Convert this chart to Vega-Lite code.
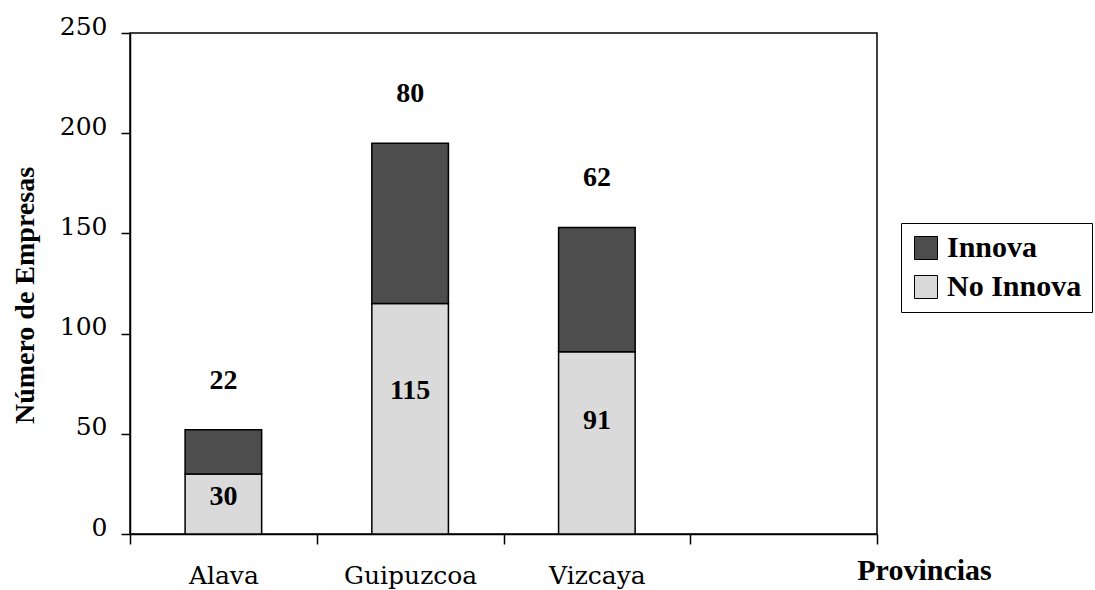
{
  "$schema": "https://vega.github.io/schema/vega-lite/v6.json",
  "width": 747,
  "height": 501,
  "autosize": "none",
  "padding": {"left": 130, "top": 33, "right": 218, "bottom": 56},
  "background": "white",
  "config": {
    "view": {"stroke": "black", "strokeWidth": 1.5},
    "font": "Liberation Serif",
    "axis": {"labelColor": "black", "titleColor": "black"}
  },
  "data": {
    "values": [
      {"prov": "Alava", "tipo": "No Innova", "n": 30},
      {"prov": "Alava", "tipo": "Innova", "n": 22},
      {"prov": "Guipuzcoa", "tipo": "No Innova", "n": 115},
      {"prov": "Guipuzcoa", "tipo": "Innova", "n": 80},
      {"prov": "Vizcaya", "tipo": "No Innova", "n": 91},
      {"prov": "Vizcaya", "tipo": "Innova", "n": 62}
    ]
  },
  "transform": [
    {"stack": "n", "groupby": ["prov"], "sort": [{"field": "tipo", "order": "descending"}], "as": ["y0", "y1"]},
    {"calculate": "datum.y0 + (datum.y1 - datum.y0) * 0.62", "as": "ylab"}
  ],
  "encoding": {
    "x": {
      "field": "prov",
      "type": "nominal",
      "scale": {"domain": ["Alava", "Guipuzcoa", "Vizcaya", " "], "paddingInner": 0, "paddingOuter": 0},
      "axis": {
        "title": "Provincias",
        "tickBand": "extent",
        "labelAngle": 0,
        "labelFont": "DejaVu Serif",
        "labelFontSize": 25,
        "labelColor": "black",
        "labelPadding": 19,
        "tickSize": 10,
        "tickWidth": 1.5,
        "tickColor": "black",
        "domainColor": "black",
        "domainWidth": 1.5,
        "titleFont": "Liberation Serif",
        "titleFontSize": 30,
        "titleFontWeight": "bold",
        "titleColor": "black",
        "titleX": 794,
        "titleY": 36,
        "titleBaseline": "middle",
        "titleAlign": "center"
      }
    }
  },
  "layer": [
    {
      "mark": {"type": "bar", "width": {"band": 0.41}, "stroke": "black", "strokeWidth": 1.5},
      "encoding": {
        "y": {
          "field": "y1",
          "type": "quantitative",
          "scale": {"domain": [0, 250], "nice": false},
          "axis": {
            "title": "Número de Empresas",
            "values": [0, 50, 100, 150, 200, 250],
            "grid": false,
            "labelFont": "DejaVu Serif",
            "labelFontSize": 25,
            "labelColor": "black",
            "labelPadding": 14,
            "labelOffset": -7,
            "tickSize": 9,
            "tickWidth": 1.5,
            "tickColor": "black",
            "domainColor": "black",
            "domainWidth": 1.5,
            "titleFont": "Liberation Serif",
            "titleFontSize": 28,
            "titleFontWeight": "bold",
            "titleColor": "black",
            "titleX": -105,
            "titleY": 262,
            "titleBaseline": "middle",
            "titleAlign": "center"
          }
        },
        "y2": {"field": "y0"},
        "color": {
          "field": "tipo",
          "type": "nominal",
          "scale": {"domain": ["Innova", "No Innova"], "range": ["#4d4d4d", "#dadada"]},
          "legend": {
            "orient": "none",
            "legendX": 771,
            "legendY": 190,
            "title": null,
            "strokeColor": "black",
            "fillColor": "white",
            "padding": 10,
            "symbolType": "square",
            "symbolSize": 529,
            "symbolStrokeColor": "black",
            "symbolStrokeWidth": 1,
            "symbolOpacity": 1,
            "labelFont": "Liberation Serif",
            "labelFontWeight": "bold",
            "labelFontSize": 30,
            "labelColor": "black",
            "labelOffset": 6,
            "rowPadding": 9
          }
        }
      }
    },
    {
      "transform": [{"filter": "datum.tipo == 'No Innova'"}],
      "mark": {"type": "text", "font": "Liberation Serif", "fontSize": 28, "fontWeight": "bold", "color": "black"},
      "encoding": {
        "y": {"field": "ylab", "type": "quantitative", "title": "Número de Empresas"},
        "text": {"field": "n", "type": "quantitative"}
      }
    },
    {
      "transform": [{"filter": "datum.tipo == 'Innova'"}],
      "mark": {"type": "text", "dy": -49, "font": "Liberation Serif", "fontSize": 28, "fontWeight": "bold", "color": "black"},
      "encoding": {
        "y": {"field": "y1", "type": "quantitative", "title": "Número de Empresas"},
        "text": {"field": "n", "type": "quantitative"}
      }
    }
  ]
}
